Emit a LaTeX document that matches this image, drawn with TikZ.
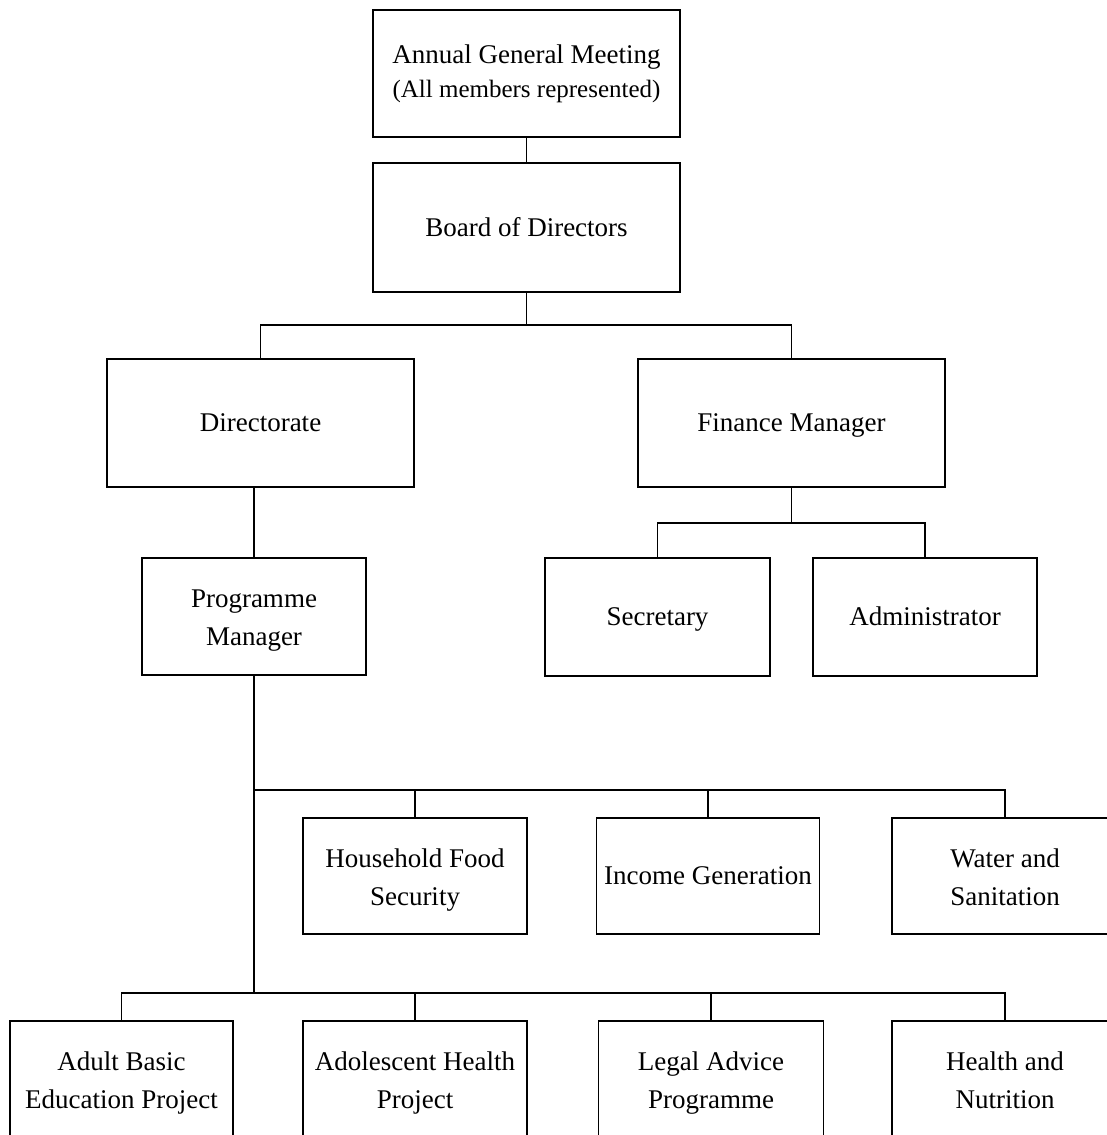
\documentclass[tikz,border=0pt]{standalone}
\usepackage{fontspec}
\setmainfont{Liberation Serif}
\newcommand\mytopstrut{\rule{0pt}{26pt}}
\newcommand\mybotstrut{\rule[-6pt]{0pt}{6pt}}
\tikzset{
  box/.style={draw, line width=1.8pt, inner sep=0pt, align=center,
    font=\fontsize{27}{38}\selectfont},
  oneline/.style={box, text height=22pt, text depth=5pt},
  conn/.style={line width=1.8pt},
}
\begin{document}
\begin{tikzpicture}[x=1pt,y=-1pt]
\useasboundingbox (0,0) rectangle (1107,1135);
\clip (0,0) rectangle (1107,1135);

% top
\node[box, minimum width=307pt, minimum height=127pt] (agm) at (526.5,73.5)
  {Annual General Meeting\\[-4pt]{\fontsize{25}{30}\selectfont (All members represented)}};
\node[oneline, minimum width=307pt, minimum height=129pt] (board) at (526.5,227.5) {Board of Directors};

\node[oneline, minimum width=307pt, minimum height=128pt] (dir) at (260.5,423) {Directorate};
\node[oneline, minimum width=307pt, minimum height=128pt] (fin) at (791.5,423) {Finance Manager};

\node[box, minimum width=224pt, minimum height=117pt] (pm) at (254,616.5) {\mytopstrut Programme\\Manager\mybotstrut};
\node[oneline, minimum width=225pt, minimum height=118pt] (sec) at (657.5,617) {Secretary};
\node[oneline, minimum width=224pt, minimum height=118pt] (adm) at (925,617) {Administrator};

\node[box, minimum width=224pt, minimum height=116pt] (hfs) at (415,876) {\mytopstrut Household Food\\Security\mybotstrut};
\node[oneline, minimum width=223pt, minimum height=116pt] (inc) at (708,876) {Income Generation};
\node[box, minimum width=226pt, minimum height=116pt] (wat) at (1005,876) {\mytopstrut Water and\\Sanitation\mybotstrut};

\node[box, minimum width=223pt, minimum height=117pt] (abe) at (121.5,1079.5) {\mytopstrut Adult Basic\\Education Project\mybotstrut};
\node[box, minimum width=224pt, minimum height=117pt] (ahp) at (415,1079.5) {\mytopstrut Adolescent Health\\Project\mybotstrut};
\node[box, minimum width=225pt, minimum height=117pt] (lap) at (711,1079.5) {\mytopstrut Legal Advice\\Programme\mybotstrut};
\node[box, minimum width=226pt, minimum height=117pt] (hn) at (1005,1079.5) {\mytopstrut Health and\\Nutrition\mybotstrut};

% junction coordinates
\coordinate (j1) at (526.5,325);
\coordinate (j2) at (791.5,523);
\coordinate (busA) at (254,790);
\coordinate (busB) at (254,993);

% connectors
\draw[conn] (agm.south) -- (board.north);
\draw[conn] (board.south) -- (j1);
\draw[conn] (dir.north) -- (dir.north |- j1) -- (fin.north |- j1) -- (fin.north);
\draw[conn] (pm.north) -- (pm.north |- dir.south);
\draw[conn] (fin.south) -- (j2);
\draw[conn] (sec.north) -- (sec.north |- j2) -- (adm.north |- j2) -- (adm.north);

\draw[conn] (pm.south) -- (busB);
\draw[conn] (busA) -- (wat.north |- busA) -- (wat.north);
\draw[conn] (hfs.north) -- (hfs.north |- busA);
\draw[conn] (inc.north) -- (inc.north |- busA);

\draw[conn] (abe.north) -- (abe.north |- busB) -- (hn.north |- busB) -- (hn.north);
\draw[conn] (ahp.north) -- (ahp.north |- busB);
\draw[conn] (lap.north) -- (lap.north |- busB);
\end{tikzpicture}
\end{document}
